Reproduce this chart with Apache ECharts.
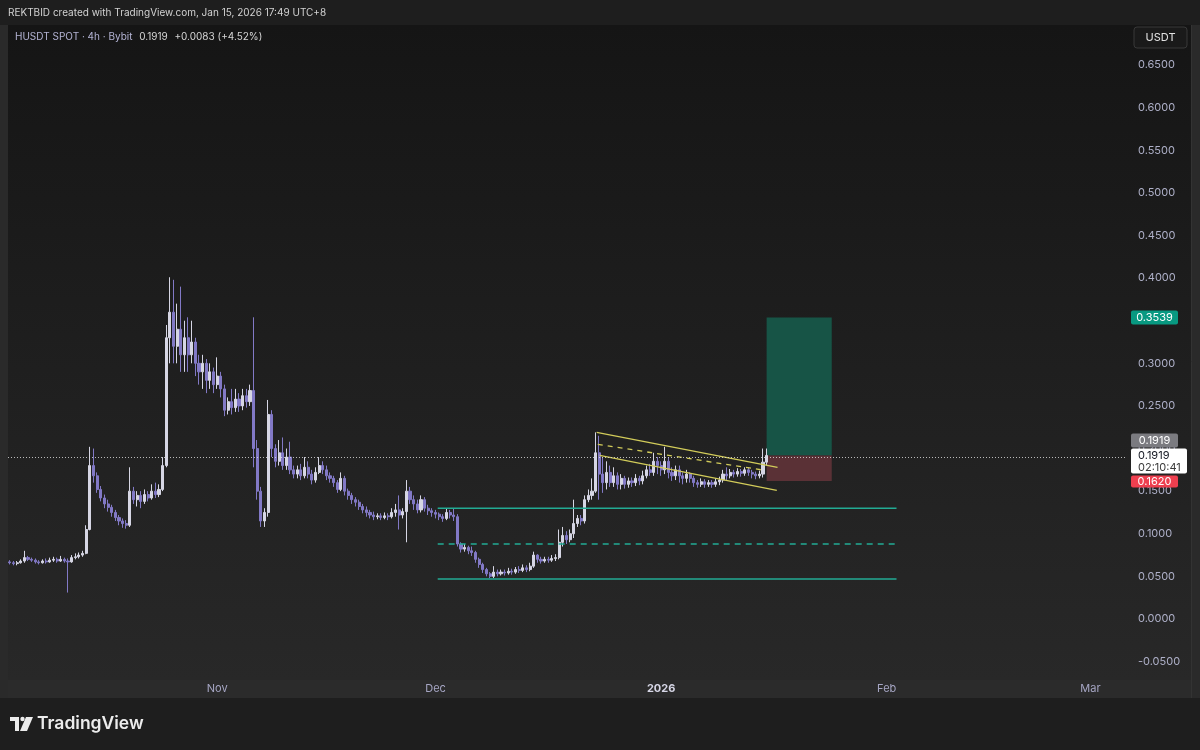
<!DOCTYPE html>
<html><head><meta charset="utf-8">
<script src="https://cdn.jsdelivr.net/npm/echarts@6/dist/echarts.min.js"></script>
<style>html,body{margin:0;padding:0;background:#1e1e1e;}#c{width:1200px;height:750px;}</style>
</head><body><div id="c"></div>
<script>
// ---- data (12h candles) [open, close, low, high]
const ohlc = [
[.067,.066,.064,.069],[.066,.065,.063,.068],[.065,.066,.063,.068],[.066,.068,.065,.070],[.068,.072,.066,.080],
[.072,.070,.068,.074],[.070,.069,.067,.072],[.069,.067,.065,.071],[.067,.066,.064,.069],[.066,.068,.065,.070],
[.068,.067,.065,.071],[.067,.069,.066,.072],[.069,.070,.067,.073],[.070,.068,.066,.072],[.068,.070,.067,.074],
[.070,.068,.066,.072],[.068,.067,.031,.071],[.067,.072,.066,.075],[.072,.073,.070,.077],[.073,.075,.071,.078],
[.075,.077,.073,.080],[.077,.105,.076,.110],[.105,.180,.104,.202],[.180,.168,.160,.200],[.168,.152,.148,.172],
[.152,.142,.138,.156],[.142,.135,.130,.146],[.135,.131,.126,.140],[.131,.125,.120,.134],[.125,.119,.115,.128],
[.119,.115,.110,.122],[.115,.112,.107,.118],[.112,.110,.106,.116],[.110,.150,.108,.178],[.150,.140,.135,.155],
[.140,.145,.132,.150],[.145,.138,.130,.150],[.138,.146,.135,.152],[.146,.142,.138,.150],[.142,.150,.140,.158],
[.150,.146,.142,.160],[.146,.152,.143,.158],[.152,.180,.150,.190],[.180,.330,.178,.345],[.330,.360,.300,.401],
[.360,.320,.300,.398],[.320,.340,.300,.370],[.340,.310,.290,.390],[.310,.330,.290,.350],[.330,.310,.290,.354],
[.310,.325,.300,.350],[.325,.300,.285,.330],[.300,.290,.275,.310],[.290,.300,.270,.310],[.300,.280,.265,.305],
[.280,.290,.270,.300],[.290,.275,.265,.295],[.275,.285,.270,.307],[.285,.270,.260,.290],[.270,.245,.238,.275],
[.245,.255,.240,.260],[.255,.248,.240,.270],[.248,.258,.243,.270],[.258,.250,.243,.265],[.250,.262,.245,.270],
[.262,.255,.248,.270],[.255,.268,.250,.275],[.268,.200,.178,.354],[.200,.150,.140,.210],[.150,.115,.108,.155],
[.115,.125,.108,.130],[.125,.240,.120,.257],[.240,.200,.190,.245],[.200,.185,.178,.205],[.185,.195,.180,.210],
[.195,.180,.175,.213],[.180,.190,.175,.200],[.190,.175,.170,.208],[.175,.170,.165,.180],[.170,.175,.165,.180],
[.175,.168,.163,.182],[.168,.178,.165,.190],[.178,.170,.165,.185],[.170,.163,.158,.175],[.163,.172,.160,.178],
[.172,.180,.170,.190],[.180,.175,.170,.185],[.175,.168,.163,.180],[.168,.165,.160,.172],[.165,.160,.155,.168],
[.160,.152,.148,.163],[.152,.165,.150,.172],[.165,.150,.145,.168],[.150,.145,.140,.153],[.145,.140,.135,.148],
[.140,.137,.132,.143],[.137,.132,.128,.140],[.132,.128,.124,.135],[.128,.125,.120,.132],[.125,.122,.118,.128],
[.122,.120,.116,.126],[.120,.121,.117,.124],[.121,.119,.116,.124],[.119,.121,.117,.125],[.121,.120,.116,.124],
[.120,.125,.118,.130],[.125,.128,.120,.135],[.128,.122,.105,.145],[.122,.126,.118,.130],[.126,.150,.090,.163],
[.150,.140,.135,.155],[.140,.135,.128,.145],[.135,.128,.124,.140],[.128,.140,.125,.145],[.140,.130,.126,.143],
[.130,.127,.122,.134],[.127,.125,.120,.130],[.125,.123,.118,.128],[.123,.120,.116,.125],[.120,.118,.114,.123],
[.118,.125,.116,.130],[.125,.122,.118,.128],[.122,.120,.115,.130],[.120,.088,.085,.123],[.088,.082,.078,.090],
[.082,.084,.079,.088],[.084,.080,.076,.086],[.080,.078,.074,.085],[.078,.070,.066,.080],[.070,.064,.060,.072],
[.064,.058,.054,.066],[.058,.053,.050,.060],[.053,.050,.048,.055],[.050,.055,.048,.062],[.055,.053,.050,.058],
[.053,.055,.051,.058],[.055,.054,.051,.058],[.054,.056,.052,.060],[.056,.055,.052,.059],[.055,.058,.053,.061],
[.058,.057,.054,.062],[.057,.060,.055,.064],[.060,.058,.055,.063],[.058,.062,.056,.066],[.062,.075,.060,.079],
[.075,.070,.066,.076],[.070,.068,.065,.073],[.068,.070,.066,.073],[.070,.069,.066,.073],[.069,.071,.067,.075],
[.071,.072,.068,.076],[.072,.090,.070,.105],[.090,.098,.085,.108],[.098,.093,.088,.103],[.093,.100,.090,.105],
[.100,.112,.095,.140],[.112,.118,.108,.122],[.118,.115,.110,.122],[.115,.140,.112,.145],[.140,.145,.137,.152],
[.145,.150,.140,.165],[.150,.195,.148,.219],[.195,.170,.140,.215],[.170,.160,.148,.190],[.160,.172,.152,.185],
[.172,.160,.155,.180],[.160,.168,.155,.178],[.168,.158,.152,.172],[.158,.165,.152,.170],[.165,.158,.153,.168],
[.158,.162,.154,.166],[.162,.160,.155,.166],[.160,.165,.156,.170],[.165,.162,.157,.168],[.162,.168,.158,.174],
[.168,.175,.165,.180],[.175,.172,.168,.182],[.172,.185,.168,.195],[.185,.180,.170,.190],[.180,.175,.168,.185],
[.175,.185,.170,.202],[.185,.172,.165,.190],[.172,.168,.162,.178],[.168,.175,.163,.180],[.175,.168,.160,.180],
[.168,.165,.158,.172],[.165,.170,.160,.175],[.170,.165,.160,.172],[.165,.160,.155,.168],[.160,.158,.154,.163],
[.158,.161,.155,.165],[.161,.158,.154,.164],[.158,.160,.155,.163],[.160,.158,.154,.163],[.158,.161,.155,.165],
[.161,.163,.157,.167],[.163,.170,.160,.175],[.170,.168,.163,.178],[.168,.172,.165,.176],[.172,.170,.166,.175],
[.170,.173,.167,.177],[.173,.171,.167,.176],[.171,.175,.168,.178],[.175,.172,.168,.178],[.172,.170,.165,.175],
[.170,.168,.164,.173],[.168,.170,.165,.174],[.170,.184,.166,.200],[.184,.1919,.180,.200]
];
const lastPrice = 0.1919;
const targetPrice = 0.3539;
const stopPrice = 0.1620;
const countdown = '02:10:41';
// x positions below are in candle-slot units (12h slots from the first candle)
const channelUpper = [[161.3, 0.219], [211.0, 0.178]];
const channelLower = [[162.1, 0.192], [210.8, 0.151]];
const channelMid   = [[161.6, 0.205], [206.6, 0.175]];
const supportSolid = [0.130, 0.047];
const supportDashed = [0.088];
const supportSpan = [117.6, 243.7];
const positionSpan = [208.0, 225.9];
const yTicks = [-0.05,0,0.05,0.1,0.15,0.2,0.25,0.3,0.35,0.4,0.45,0.5,0.55,0.6,0.65];
const tickDates = ['2025-11-01T00','2025-12-01T00','2026-01-01T00','2026-02-01T00','2026-03-01T00'];
const tickLabels = ['Nov','Dec','2026','Feb','Mar'];

// ---- axis categories (12h slots)
const startMs = Date.UTC(2025, 9, 3, 12);
const nSlots = 307;
const categories = [];
for (let i = 0; i < nSlots; i++) categories.push(new Date(startMs + i * 43200000).toISOString().slice(0, 13));

const FONT = 'Inter, Roboto, sans-serif';
const chart = echarts.init(document.getElementById('c'), null, {renderer: 'canvas'});

function lineSeries(data, color, type, width) {
  return {type: 'line', xAxisIndex: 1, yAxisIndex: 0, data: data, symbol: 'none', silent: true,
    lineStyle: {color: color, width: width, type: type}, z: 4, animation: false};
}
const series = [
  {type: 'custom', xAxisIndex: 1, yAxisIndex: 0, silent: true, z: 1, animation: false,
   data: [[positionSpan[0], positionSpan[1], lastPrice, targetPrice, stopPrice]],
   encode: {x: [0, 1], y: [2, 3, 4]},
   renderItem: function (params, api) {
     const a = api.coord([api.value(0), api.value(2)]);
     const b = api.coord([api.value(1), api.value(3)]);
     const s = api.coord([api.value(1), api.value(4)]);
     return {type: 'group', children: [
       {type: 'rect', shape: {x: a[0], y: b[1], width: b[0] - a[0], height: a[1] - b[1]}, style: {fill: '#175446'}},
       {type: 'rect', shape: {x: a[0], y: a[1], width: b[0] - a[0], height: s[1] - a[1]}, style: {fill: '#5a3136'}}
     ]};
   }},
  {type: 'candlestick', xAxisIndex: 0, yAxisIndex: 0, data: ohlc, barWidth: 2.6, z: 3, animation: false,
   itemStyle: {color: '#d6d6e4', color0: '#8279c6', borderColor: '#d6d6e4', borderColor0: '#8279c6', borderWidth: 1},
   markLine: {silent: true, symbol: ['none', 'none'], label: {show: false}, animation: false,
     lineStyle: {color: 'rgba(225,225,225,0.8)', type: [1, 2], width: 1},
     data: [{yAxis: lastPrice}]}}
];
supportSolid.forEach(v => series.push(lineSeries([[supportSpan[0], v], [supportSpan[1], v]], '#22ab94', 'solid', 1.6)));
supportDashed.forEach(v => series.push(lineSeries([[supportSpan[0], v], [supportSpan[1], v]], '#22ab94', [6, 5], 1.6)));
series.push(lineSeries(channelUpper, '#d2cc5a', 'solid', 1.3));
series.push(lineSeries(channelLower, '#d2cc5a', 'solid', 1.3));
series.push(lineSeries(channelMid, '#d2cc5a', [5, 5], 1.3));

chart.setOption({
  backgroundColor: '#1e1e1e',
  animation: false,
  grid: {left: 8, right: 75, top: 25, bottom: 70},
  xAxis: [
    {type: 'category', data: categories, boundaryGap: true,
     axisLine: {show: false}, axisTick: {show: false}, splitLine: {show: false},
     axisLabel: {interval: (idx, val) => tickDates.indexOf(val) >= 0,
       formatter: val => { const k = tickDates.indexOf(val); if (k < 0) return ''; return k === 2 ? '{b|' + tickLabels[k] + '}' : tickLabels[k]; },
       color: '#a6a6c4', fontSize: 11, fontFamily: FONT, margin: 3,
       rich: {b: {fontWeight: 'bold', color: '#d6d6e6', fontSize: 11, fontFamily: FONT}}}},
    {type: 'value', min: -0.5, max: nSlots - 0.5, show: false}
  ],
  yAxis: {type: 'value', position: 'right', min: -0.0716, max: 0.697, scale: true,
    axisLine: {show: false}, axisTick: {show: false}, splitLine: {show: false},
    axisLabel: {customValues: yTicks, formatter: v => v.toFixed(4), color: '#aeb0c8', fontSize: 11, fontFamily: FONT, margin: 13}},
  series: series
});

// ---- frame, texts and price tags
const yOf = v => chart.convertToPixel({yAxisIndex: 0}, v);
const yl = yOf(lastPrice), yt = yOf(targetPrice), ys = yOf(stopPrice);
function tag(y, h, w, fill, text, color) {
  return [
    {type: 'rect', z: 100, shape: {x: 1131, y: y - h / 2, width: w, height: h, r: 2}, style: {fill: fill}},
    {type: 'text', z: 101, style: {x: 1131 + 47 / 2, y: y, text: text, fill: color, font: '11px ' + FONT, textAlign: 'center', textVerticalAlign: 'middle'}}
  ];
}
const g = [
  {type: 'rect', z: -100, shape: {x: 8, y: 25, width: 1184, height: 655},
   style: {fill: new echarts.graphic.LinearGradient(0, 0, 0, 1, [{offset: 0, color: '#151515'}, {offset: 1, color: '#282828'}])}},
  {type: 'rect', z: -100, shape: {x: 8, y: 680, width: 1184, height: 18}, style: {fill: '#2b2b2b'}},
  {type: 'rect', z: -100, shape: {x: 0, y: 25, width: 8, height: 673}, style: {fill: '#2a2a2a'}},
  {type: 'rect', z: -100, shape: {x: 1192, y: 25, width: 8, height: 673}, style: {fill: '#2a2a2a'}},
  {type: 'line', z: -99, shape: {x1: 1191.5, y1: 25, x2: 1191.5, y2: 698}, style: {stroke: '#333333', lineWidth: 1}},
  {type: 'text', z: 100, style: {x: 8, y: 13, text: 'REKTBID created with TradingView.com, Jan 15, 2026 17:49 UTC+8', fill: '#d2d2d2', font: '10px ' + FONT, textVerticalAlign: 'middle'}},
  {type: 'text', z: 100, style: {x: 15, y: 37, text: '{a|HUSDT SPOT · 4h · Bybit}  {b|0.1919}  {b|+0.0083 (+4.52%)}', textVerticalAlign: 'middle',
    rich: {a: {fill: '#b4b4d4', font: '10px ' + FONT}, b: {fill: '#d6d6d6', font: '10px ' + FONT}}}},
  {type: 'rect', z: 100, shape: {x: 1134, y: 27, width: 53, height: 21, r: 3}, style: {fill: '#1a1a1a', stroke: '#383838', lineWidth: 1}},
  {type: 'text', z: 101, style: {x: 1160.5, y: 37.5, text: 'USDT', fill: '#e2e2e2', font: '11px ' + FONT, textAlign: 'center', textVerticalAlign: 'middle'}},
  // TradingView logo
  {type: 'rect', z: 100, shape: {x: 10, y: 717, width: 9, height: 4}, style: {fill: '#ececec'}},
  {type: 'rect', z: 100, shape: {x: 15, y: 717, width: 4, height: 14}, style: {fill: '#ececec'}},
  {type: 'circle', z: 100, shape: {cx: 22.5, cy: 719, r: 2.2}, style: {fill: '#ececec'}},
  {type: 'polygon', z: 100, shape: {points: [[26, 717], [33, 717], [27, 731], [20, 731]]}, style: {fill: '#ececec'}},
  {type: 'text', z: 100, style: {x: 37, y: 724, text: 'TradingView', fill: '#ececec', font: '600 17.5px ' + FONT, textVerticalAlign: 'middle'}}
];
g.push(...tag(yt, 14, 47, '#089981', targetPrice.toFixed(4), '#ffffff'));
g.push(...tag(yl - 15, 14, 47, '#7b7b80', lastPrice.toFixed(4), '#ffffff'));
g.push(...tag(ys + 0.5, 12, 47, '#ee3f4f', stopPrice.toFixed(4), '#ffffff'));
g.push({type: 'rect', z: 100, shape: {x: 1131, y: yl - 7, width: 56, height: 25, r: 2}, style: {fill: '#ffffff'}});
g.push({type: 'text', z: 101, style: {x: 1138, y: yl, text: lastPrice.toFixed(4), fill: '#131722', font: '11px ' + FONT, textVerticalAlign: 'middle'}});
g.push({type: 'text', z: 101, style: {x: 1138, y: yl + 12, text: countdown, fill: '#3a3a3a', font: '11px ' + FONT, textVerticalAlign: 'middle'}});
chart.setOption({graphic: g});
</script></body></html>
